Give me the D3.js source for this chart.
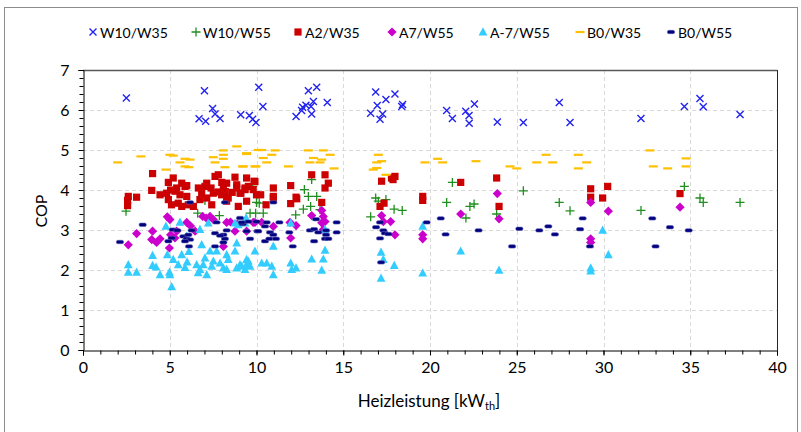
<!DOCTYPE html>
<html>
<head>
<meta charset="utf-8">
<script src="https://cdn.jsdelivr.net/npm/d3@7"></script>
<style>
  html, body { margin: 0; padding: 0; background: #fff; }
  svg { display: block; font-family: Lato, "Open Sans", sans-serif; }
</style>
</head>
<body>
<svg id="chart" width="801" height="432"></svg>
<script>
// Heat-pump COP measurements vs. heating output, one array per test point
const seriesNames = ["W10/W35", "W10/W55", "A2/W35", "A7/W55", "A-7/W55", "B0/W35", "B0/W55"];

const w10w35 = [[2.5,6.3],[7.0,6.48],[7.47,6.04],[6.69,5.78],[7.07,5.72],[7.61,5.9],[7.9,5.79],[9.09,5.88],[9.59,5.86],[9.78,5.77],[9.97,5.69],[10.13,6.57],[10.37,6.09],[12.99,6.48],[13.47,6.57],[14.08,6.19],[12.28,5.84],[12.66,6.07],[12.85,6.12],[13.14,6.09],[13.28,6.21],[13.18,5.9],[12.6,5.99],[16.87,6.45],[17.46,6.26],[17.98,6.4],[16.96,6.11],[16.58,5.92],[17.27,5.9],[17.12,5.77],[18.37,6.09],[18.42,6.14],[20.96,5.99],[21.29,5.79],[22.06,5.97],[22.56,6.15],[22.25,5.86],[22.26,5.67],[23.88,5.7],[25.38,5.69],[27.45,6.19],[28.07,5.69],[32.16,5.79],[34.66,6.09],[35.56,6.29],[35.75,6.08],[37.87,5.89]];

const w10w55 = [[2.48,3.47],[6.61,3.42],[7.03,3.74],[7.86,3.36],[9.63,3.42],[9.95,3.42],[10.0,3.69],[9.78,4.09],[10.39,3.42],[10.16,3.67],[12.76,4.01],[12.99,3.84],[13.47,3.84],[13.12,3.59],[12.7,3.52],[12.26,3.38],[13.66,3.51],[13.18,4.26],[16.87,3.8],[16.58,3.33],[17.02,3.72],[17.46,3.76],[17.93,3.52],[18.4,3.49],[21.29,4.19],[20.96,3.69],[22.3,3.59],[22.54,3.65],[22.07,3.3],[23.84,3.4],[25.38,3.98],[27.45,3.69],[28.07,3.48],[32.16,3.49],[34.66,4.09],[35.56,3.8],[35.75,3.69],[37.87,3.69]];

const a2w35 = [[4.01,4.41],[3.96,3.99],[2.61,3.84],[3.09,3.82],[4.44,3.88],[4.92,4.19],[5.2,4.3],[5.69,4.17],[5.98,4.11],[5.4,4.05],[6.65,4.05],[7.13,4.17],[7.38,4.05],[7.61,4.34],[7.8,4.38],[8.0,4.19],[8.28,4.17],[8.76,4.32],[9.43,4.3],[9.91,4.21],[8.86,4.05],[9.34,4.05],[7.8,3.95],[8.2,3.96],[8.6,3.94],[2.57,3.74],[2.57,3.61],[4.92,3.76],[5.1,3.63],[5.05,4.0],[5.3,3.97],[5.59,3.88],[5.49,3.67],[5.88,4.09],[5.98,3.84],[5.69,3.59],[6.07,3.63],[6.84,3.92],[7.03,4.09],[6.74,3.76],[7.13,3.8],[7.42,3.63],[7.51,3.92],[8.09,4.09],[7.99,3.88],[8.28,3.72],[8.37,3.8],[8.86,4.13],[9.05,3.92],[9.34,4.01],[9.43,3.72],[8.95,3.59],[9.53,4.09],[9.81,4.01],[10.0,3.88],[6.36,3.59],[4.82,3.92],[9.86,4.22],[10.24,3.88],[10.97,4.05],[11.97,4.11],[13.18,4.38],[13.95,4.38],[14.14,4.17],[13.95,4.05],[12.28,3.82],[10.97,3.84],[9.1,3.92],[10.97,3.8],[10.55,3.63],[11.97,3.66],[12.32,3.78],[13.76,3.69],[17.21,4.22],[17.87,4.26],[17.35,3.67],[17.12,3.59],[17.98,4.34],[17.78,4.3],[21.77,4.19],[23.84,4.3],[19.58,3.84],[19.58,3.74],[23.98,3.59],[29.26,4.03],[30.24,4.09],[34.41,3.91],[29.26,3.82],[29.95,3.8]];

const a7w55 = [[2.61,2.63],[3.09,2.91],[4.01,2.97],[3.96,2.76],[4.24,2.69],[4.44,2.78],[4.86,3.33],[5.01,3.26],[4.98,2.55],[5.05,2.88],[5.4,2.97],[5.3,2.8],[5.98,3.19],[6.46,2.97],[6.9,3.34],[7.32,3.34],[7.51,3.26],[8.28,3.19],[8.76,2.97],[8.09,2.59],[9.81,3.19],[9.91,3.19],[10.3,3.19],[9.43,2.97],[10.97,3.09],[11.97,2.8],[11.93,3.19],[12.28,3.11],[13.18,3.36],[13.76,3.49],[13.85,3.34],[13.95,3.21],[13.76,3.18],[13.85,3.01],[17.21,3.36],[17.31,3.21],[17.73,3.21],[17.98,2.88],[19.58,2.88],[19.58,2.78],[21.77,3.4],[23.88,3.91],[23.98,3.28],[29.26,3.69],[30.28,3.47],[29.26,2.78],[29.26,2.69],[34.41,3.57],[8.5,3.2],[7.1,3.3],[6.2,3.1],[8.9,3.15]];

const am7w55 = [[2.61,2.13],[2.61,1.94],[3.09,1.94],[4.01,2.36],[4.01,2.11],[4.21,2.07],[4.44,1.88],[4.78,3.09],[4.86,2.38],[4.98,1.94],[5.01,1.88],[5.11,1.58],[5.2,2.26],[5.59,3.19],[5.49,2.13],[5.69,2.38],[5.98,2.84],[5.88,2.06],[6.0,2.2],[6.1,2.46],[6.55,2.13],[6.64,1.93],[6.74,2.01],[6.93,2.13],[7.03,2.3],[6.84,2.63],[6.74,3.01],[7.22,3.17],[7.13,1.88],[7.42,2.09],[7.32,2.47],[7.7,2.47],[7.51,2.22],[7.9,2.17],[8.09,2.05],[8.28,2.01],[8.37,2.26],[8.28,2.38],[8.76,2.47],[8.86,2.67],[8.86,2.05],[9.05,2.13],[9.34,2.01],[9.53,2.22],[9.63,2.09],[9.91,2.47],[8.95,3.13],[9.34,3.17],[8.76,3.17],[9.4,3.3],[9.43,2.26],[9.43,2.13],[9.15,2.09],[10.3,2.17],[10.59,2.17],[10.88,2.09],[10.97,2.59],[10.97,1.88],[11.97,3.17],[11.97,2.17],[12.03,2.01],[12.28,2.05],[13.18,2.27],[13.85,2.27],[13.95,2.49],[13.76,1.99],[13.95,3.01],[17.18,2.44],[17.31,2.26],[17.18,1.79],[17.94,2.11],[19.58,3.09],[19.58,1.92],[21.77,2.47],[23.98,1.99],[29.95,2.99],[30.28,2.38],[29.26,2.05],[29.26,1.97]];

const b0w35 = [[2.0,4.69],[3.34,4.84],[4.78,4.51],[5.01,4.88],[5.2,4.86],[5.59,4.69],[5.88,4.78],[6.17,4.76],[5.88,4.59],[6.1,4.57],[7.51,4.82],[8.09,4.88],[8.09,4.78],[7.61,4.69],[8.18,4.57],[8.09,4.99],[8.86,5.09],[9.2,4.59],[9.43,4.9],[9.91,4.59],[10.1,5.0],[9.43,4.92],[9.24,4.59],[10.3,5.0],[11.07,4.99],[10.39,4.8],[10.88,4.88],[10.59,4.69],[9.97,4.59],[11.84,4.59],[12.99,4.99],[13.85,4.99],[14.24,4.88],[13.28,4.8],[13.76,4.76],[13.08,4.69],[13.66,4.69],[14.47,4.54],[17.02,4.88],[17.21,4.72],[16.93,4.69],[16.93,4.55],[16.73,4.51],[17.46,4.38],[19.71,4.69],[20.44,4.78],[20.73,4.69],[22.65,4.72],[24.61,4.59],[25.0,4.54],[26.15,4.69],[26.69,4.88],[27.07,4.69],[28.55,4.88],[28.55,4.54],[29.03,4.69],[32.68,4.99],[32.87,4.59],[33.7,4.54],[34.76,4.79],[34.76,4.59]];

const b0w55 = [[2.13,2.7],[3.44,3.13],[4.92,2.72],[5.11,2.8],[5.17,3.01],[5.44,2.99],[6.17,3.69],[6.26,2.99],[5.78,2.84],[5.98,2.78],[6.17,2.76],[5.88,2.72],[6.07,2.88],[6.11,2.59],[7.61,2.92],[7.7,3.19],[8.18,3.69],[8.28,2.99],[8.09,2.88],[8.18,2.78],[8.09,2.69],[7.9,2.86],[7.61,2.59],[9.05,3.3],[9.2,3.15],[9.43,2.97],[9.53,3.21],[9.63,2.78],[10.05,2.97],[10.97,3.69],[9.15,3.19],[10.0,3.21],[10.1,2.97],[10.49,3.09],[10.59,3.19],[10.78,2.94],[10.49,2.72],[10.97,2.88],[10.74,2.78],[11.12,2.78],[11.32,3.19],[11.89,2.94],[12.09,2.59],[13.43,3.27],[13.08,2.99],[13.32,3.02],[13.56,2.94],[13.32,2.72],[14.01,2.99],[14.01,2.88],[13.95,2.78],[14.14,2.78],[14.62,3.19],[14.62,2.94],[16.89,3.07],[17.12,3.19],[17.31,2.99],[17.4,2.92],[17.6,2.9],[17.12,2.79],[17.18,2.19],[19.81,3.19],[20.62,3.29],[20.9,2.89],[22.8,2.99],[24.73,2.59],[25.15,3.03],[26.3,2.99],[26.82,3.09],[27.2,2.89],[28.65,3.02],[28.8,3.29],[29.22,2.59],[32.81,3.29],[33.0,2.59],[33.83,3.07],[34.91,2.99]];

const xTicks = [0, 5, 10, 15, 20, 25, 30, 35, 40];
const yTicks = [0, 1, 2, 3, 4, 5, 6, 7];

// ---- layout ----
const svg = d3.select("#chart");
const plot = { left: 83, right: 777, top: 70, bottom: 350 };
const x = d3.scaleLinear().domain([0, 40]).range([plot.left, plot.right]);
const y = d3.scaleLinear().domain([0, 7]).range([plot.bottom, plot.top]);

// outer chart frame
svg.append("rect")
  .attr("x", 4.5).attr("y", 7.5).attr("width", 793).attr("height", 440)
  .attr("fill", "none").attr("stroke", "#8c8c8c").attr("stroke-width", 1);

// gridlines
const grid = svg.append("g").attr("stroke", "#d9d9d9").attr("stroke-width", 1)
  .attr("stroke-dasharray", "4,3");
yTicks.filter(v => v > 0 && v < 7).forEach(v => {
  grid.append("line").attr("x1", plot.left).attr("x2", plot.right)
    .attr("y1", Math.round(y(v)) + 0.5).attr("y2", Math.round(y(v)) + 0.5);
});
xTicks.filter(v => v > 0 && v < 40).forEach(v => {
  grid.append("line").attr("y1", plot.top).attr("y2", plot.bottom)
    .attr("x1", Math.round(x(v)) + 0.5).attr("x2", Math.round(x(v)) + 0.5);
});

// plot border (top and right)
svg.append("line").attr("x1", plot.left).attr("x2", plot.right)
  .attr("y1", plot.top + 0.5).attr("y2", plot.top + 0.5)
  .attr("stroke", "#595959").attr("stroke-width", 1.5);
svg.append("line").attr("x1", plot.right + 0.5).attr("x2", plot.right + 0.5)
  .attr("y1", plot.top).attr("y2", plot.bottom)
  .attr("stroke", "#262626").attr("stroke-width", 1);

// axes
const tickFont = "16px";
const xAxis = d3.axisBottom(x).tickValues(xTicks).tickSize(5).tickPadding(6)
  .tickFormat(d3.format("d"));
const gx = svg.append("g").attr("transform", `translate(0,${plot.bottom + 0.5})`).call(xAxis);
const xMinor = d3.axisBottom(x).tickValues(d3.range(0, 41, 1)).tickSize(4).tickFormat("");
svg.append("g").attr("transform", `translate(0,${plot.bottom + 0.5})`).call(xMinor)
  .call(g => g.select(".domain").remove());

const yAxis = d3.axisLeft(y).tickValues(yTicks).tickSize(5).tickPadding(9)
  .tickFormat(d3.format("d"));
const gy = svg.append("g").attr("transform", `translate(${plot.left + 0.5},0)`).call(yAxis);
const yMinor = d3.axisLeft(y).tickValues(d3.range(0, 7.01, 0.2)).tickSize(4).tickFormat("");
svg.append("g").attr("transform", `translate(${plot.left + 0.5},0)`).call(yMinor)
  .call(g => g.select(".domain").remove());

svg.selectAll(".domain, .tick line").attr("stroke", "#000");
[gx, gy].forEach(g => g.selectAll("text")
  .attr("font-family", "Lato, 'Open Sans', sans-serif")
  .attr("font-size", tickFont).attr("fill", "#000"));

// axis titles
const xt = svg.append("text").attr("x", 429).attr("y", 407).attr("text-anchor", "middle")
  .attr("font-size", "17px").attr("fill", "#000");
xt.append("tspan").text("Heizleistung [kW");
xt.append("tspan").attr("font-size", "11px").attr("dy", 3).text("th");
xt.append("tspan").attr("dy", -3).text("]");

svg.append("text").attr("transform", "translate(47,211) rotate(-90)")
  .attr("text-anchor", "middle").attr("font-size", "16px").attr("fill", "#000").text("COP");

// ---- marker painters ----
const markers = {
  cross: (g, c) => g.append("path").attr("d", "M-3.5,-3.5L3.5,3.5M-3.5,3.5L3.5,-3.5")
    .attr("stroke", c).attr("stroke-width", 1.4).attr("fill", "none"),
  plus: (g, c) => g.append("path").attr("d", "M-4.5,0L4.5,0M0,-4.5L0,4.5")
    .attr("stroke", c).attr("stroke-width", 1.3).attr("fill", "none"),
  square: (g, c) => g.append("rect").attr("x", -3.6).attr("y", -3.6)
    .attr("width", 7.2).attr("height", 7.2).attr("fill", c),
  diamond: (g, c) => g.append("path").attr("d", "M0,-4.6L4.6,0L0,4.6L-4.6,0Z").attr("fill", c),
  triangle: (g, c) => g.append("path").attr("d", "M0,-4.8L4.4,3.4L-4.4,3.4Z").attr("fill", c),
  dash: (g, c) => g.append("rect").attr("x", -4.5).attr("y", -1.1)
    .attr("width", 9).attr("height", 2.2).attr("fill", c),
  pill: (g, c) => g.append("rect").attr("x", -3.6).attr("y", -1.7)
    .attr("width", 7.2).attr("height", 3.4).attr("rx", 1.5).attr("fill", c)
    .attr("stroke", "#5a5ab0").attr("stroke-width", 0.6)
};

const series = [
  { name: seriesNames[0], data: w10w35, shape: "cross",    color: "#2323f0" },
  { name: seriesNames[1], data: w10w55, shape: "plus",     color: "#1f8f1f" },
  { name: seriesNames[2], data: a2w35,  shape: "square",   color: "#cc0000" },
  { name: seriesNames[3], data: a7w55,  shape: "diamond",  color: "#cc00cc" },
  { name: seriesNames[4], data: am7w55, shape: "triangle", color: "#33ccff" },
  { name: seriesNames[5], data: b0w35,  shape: "dash",     color: "#ffc000" },
  { name: seriesNames[6], data: b0w55,  shape: "pill",     color: "#000080" }
];

// data points
series.forEach(s => {
  const layer = svg.append("g").attr("class", "series");
  layer.selectAll("g").data(s.data).join("g")
    .attr("transform", d => `translate(${x(d[0])},${y(d[1])})`)
    .each(function () { markers[s.shape](d3.select(this), s.color); });
});

// legend
const legendX = [93, 196, 298, 392, 483, 580, 671];
const legend = svg.append("g");
series.forEach((s, i) => {
  const item = legend.append("g").attr("transform", `translate(${legendX[i]},32)`);
  markers[s.shape](item, s.color);
  item.append("text").attr("x", 7).attr("y", 5.5).attr("font-size", "14px")
    .attr("fill", "#000").text(s.name);
});
</script>
</body>
</html>
